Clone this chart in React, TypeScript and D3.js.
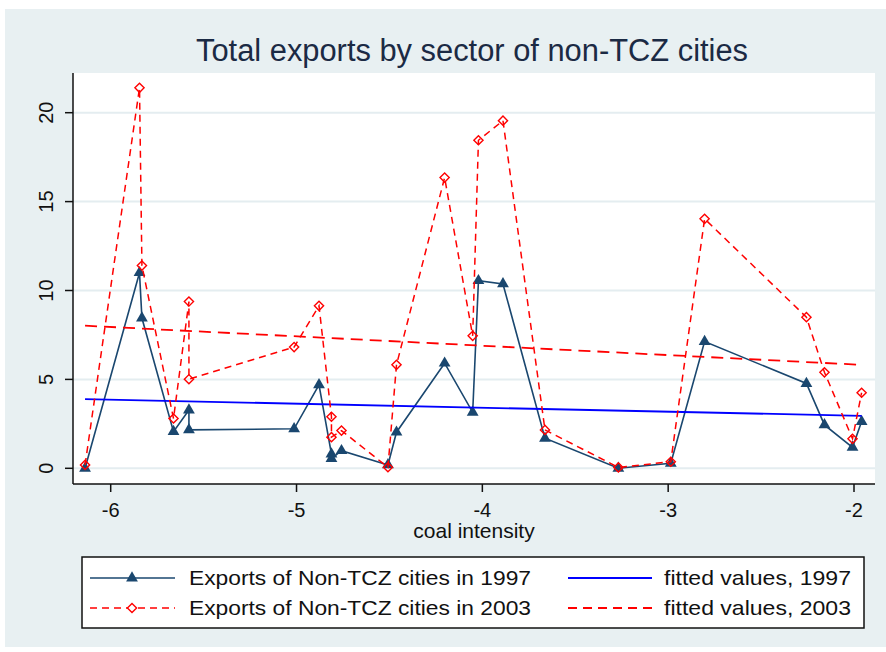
import { scaleLinear, line } from 'd3';

// coal intensity of each non-TCZ city (x), sorted as plotted
const coalIntensity = [
  -6.138, -5.845, -5.832, -5.662, -5.579, -5.579, -5.013, -4.879, -4.812, -4.812,
  -4.758, -4.508, -4.462, -4.203, -4.052, -4.021, -3.889, -3.663, -3.268, -2.986,
  -2.804, -2.256, -2.159, -2.008, -1.959,
];
const exports1997 = [
  0.0, 11.0, 8.45, 2.06, 3.28, 2.16, 2.22, 4.69, 0.8, 0.55,
  0.99, 0.19, 2.03, 5.91, 3.15, 10.55, 10.37, 1.69, 0.0, 0.28,
  7.13, 4.77, 2.44, 1.18, 2.63,
];
const exports2003 = [
  0.19, 21.4, 11.4, 2.8, 9.38, 5.01, 6.82, 9.14, 2.9, 1.75,
  2.12, 0.06, 5.82, 16.35, 7.45, 18.45, 19.55, 2.16, 0.05, 0.37,
  14.03, 8.5, 5.4, 1.66, 4.25,
];
// fitted values at the ends of the x range
const fitX = [-6.138, -1.959];
const fit1997 = [3.89, 2.95];
const fit2003 = [8.02, 5.82];

const xTicks = [-6, -5, -4, -3, -2];
const yTicks = [0, 5, 10, 15, 20];

const legendLabels = [
  'Exports of Non-TCZ cities in 1997',
  'fitted values, 1997',
  'Exports of Non-TCZ cities in 2003',
  'fitted values, 2003',
];

const NAVY = '#1a476f';
const RED = '#ff0000';
const BLUE = '#0000ff';
const GRID = '#e4edf0';
const FONT = '"Liberation Sans", Arial, sans-serif';

const triangle = 'M0,-6.8L5.9,3.4L-5.9,3.4Z';
const diamond = 'M0,-4.6L4.6,0L0,4.6L-4.6,0Z';

export default function App() {
  const width = 886;
  const height = 652;

  // plot region
  const left = 73;
  const right = 875;
  const top = 73;
  const bottom = 484;

  const x = scaleLinear().domain([-6, -2]).range([110.7, 854]);
  const y = scaleLinear().domain([0, 20]).range([468.3, 112.7]);

  const seriesLine = line<number>()
    .x((_, i) => x(coalIntensity[i]))
    .y((d) => y(d));
  const fitLine = line<number>()
    .x((_, i) => x(fitX[i]))
    .y((d) => y(d));

  return (
    <svg
      width={width}
      height={height}
      style={{ position: 'absolute', left: 0, top: 0, fontFamily: FONT }}
    >
      <rect x={0} y={0} width={width} height={height} fill="#fff" />
      <rect x={5} y={9} width={width - 5} height={638} fill="#e8f0f2" />

      {/* title */}
      <text
        x={472}
        y={61}
        textAnchor="middle"
        fontSize={31}
        fill="#1b2a44"
        textLength={552}
        lengthAdjust="spacingAndGlyphs"
      >
        Total exports by sector of non-TCZ cities
      </text>

      {/* plot region */}
      <rect x={left} y={top} width={right - left} height={bottom - top} fill="#fff" />
      {yTicks.map((t) => (
        <line key={`g${t}`} x1={left} x2={right} y1={y(t)} y2={y(t)} stroke={GRID} strokeWidth={2} />
      ))}

      {/* axes */}
      <line x1={left} x2={left} y1={top} y2={bottom} stroke="#111" strokeWidth={1.5} />
      <line x1={left} x2={right} y1={bottom} y2={bottom} stroke="#111" strokeWidth={1.5} />
      {yTicks.map((t) => (
        <g key={`y${t}`}>
          <line x1={left - 8} x2={left} y1={y(t)} y2={y(t)} stroke="#111" strokeWidth={1.5} />
          <text
            transform={`translate(46,${y(t)}) rotate(-90)`}
            textAnchor="middle"
            dy="0.35em"
            fontSize={20}
            fill="#111"
          >
            {t}
          </text>
        </g>
      ))}
      {xTicks.map((t) => (
        <g key={`x${t}`}>
          <line x1={x(t)} x2={x(t)} y1={bottom} y2={bottom + 8} stroke="#111" strokeWidth={1.5} />
          <text x={x(t)} y={510} textAnchor="middle" dy="0.35em" fontSize={20} fill="#111">
            {t}
          </text>
        </g>
      ))}
      <text x={474} y={531} textAnchor="middle" dy="0.35em" fontSize={21} fill="#111">
        coal intensity
      </text>

      {/* 1997 exports */}
      <path d={seriesLine(exports1997) ?? ''} fill="none" stroke={NAVY} strokeWidth={1.6} />
      {exports1997.map((v, i) => (
        <path key={`t${i}`} d={triangle} transform={`translate(${x(coalIntensity[i])},${y(v)})`} fill={NAVY} />
      ))}

      {/* fitted 1997 */}
      <path d={fitLine(fit1997) ?? ''} fill="none" stroke={BLUE} strokeWidth={1.8} />

      {/* 2003 exports */}
      <path
        d={seriesLine(exports2003) ?? ''}
        fill="none"
        stroke={RED}
        strokeWidth={1.5}
        strokeDasharray="7 5"
      />
      {exports2003.map((v, i) => (
        <path
          key={`d${i}`}
          d={diamond}
          transform={`translate(${x(coalIntensity[i])},${y(v)})`}
          fill="none"
          stroke={RED}
          strokeWidth={1.4}
        />
      ))}

      {/* fitted 2003 */}
      <path
        d={fitLine(fit2003) ?? ''}
        fill="none"
        stroke={RED}
        strokeWidth={1.8}
        strokeDasharray="12 7"
      />

      {/* legend */}
      <rect x={82} y={557} width={782} height={71} fill="#fff" stroke="#111" strokeWidth={1.5} />
      <g fontSize={21} fill="#111">
        <line x1={90} x2={175} y1={578} y2={578} stroke={NAVY} strokeWidth={1.6} />
        <path d={triangle} transform="translate(132,578)" fill={NAVY} />
        <text x={189} y={578} dy="0.35em" textLength={342} lengthAdjust="spacingAndGlyphs">
          {legendLabels[0]}
        </text>

        <line x1={568} x2={652} y1={578} y2={578} stroke={BLUE} strokeWidth={1.8} />
        <text x={664} y={578} dy="0.35em" textLength={187} lengthAdjust="spacingAndGlyphs">
          {legendLabels[1]}
        </text>

        <line x1={90} x2={175} y1={608} y2={608} stroke={RED} strokeWidth={1.5} strokeDasharray="7 5" />
        <path d={diamond} transform="translate(132,608)" fill="#fff" stroke={RED} strokeWidth={1.4} />
        <text x={189} y={608} dy="0.35em" textLength={342} lengthAdjust="spacingAndGlyphs">
          {legendLabels[2]}
        </text>

        <line x1={568} x2={652} y1={608} y2={608} stroke={RED} strokeWidth={1.8} strokeDasharray="9 6" />
        <text x={664} y={608} dy="0.35em" textLength={187} lengthAdjust="spacingAndGlyphs">
          {legendLabels[3]}
        </text>
      </g>
    </svg>
  );
}
